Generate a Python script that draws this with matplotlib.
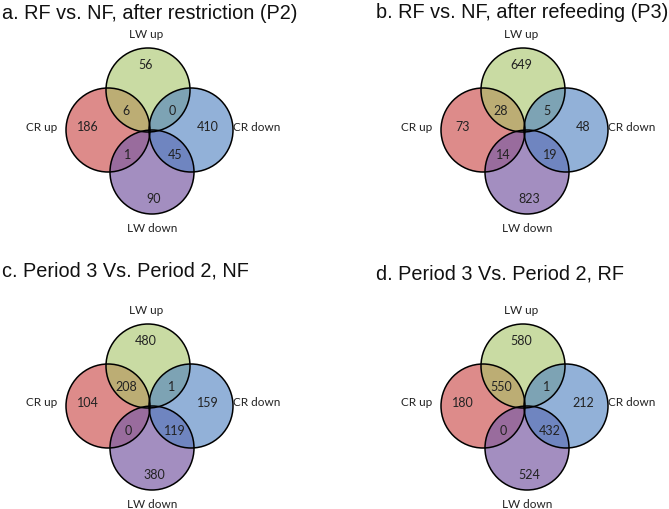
import matplotlib
matplotlib.use("Agg")
import matplotlib.pyplot as plt
from matplotlib.patches import Circle

# Panel titles
titles = [
    "a. RF vs. NF, after restriction (P2)",
    "b. RF vs. NF, after refeeding (P3)",
    "c. Period 3 Vs. Period 2, NF",
    "d. Period 3 Vs. Period 2, RF",
]

# Set names
set_labels = ["LW up", "CR up", "CR down", "LW down"]

# Region counts, one list per region, one value per panel (a, b, c, d)
lw_up_only = [56, 649, 480, 580]
lw_up_cr_up = [6, 28, 208, 550]
lw_up_cr_down = [0, 5, 1, 1]
cr_up_only = [186, 73, 104, 180]
cr_down_only = [410, 48, 159, 212]
cr_up_lw_down = [1, 14, 0, 0]
cr_down_lw_down = [45, 19, 119, 432]
lw_down_only = [90, 823, 380, 524]

# layout (pixels)
W, H = 669, 509
centers = [(150, 131), (525, 131), (150, 407), (525, 407)]
title_pos = [(2, 13), (376, 12), (2, 271), (376, 274)]
R = 42
circ_off = {"green": (-2, -41), "red": (-42, -1), "purple": (2, 41), "blue": (41, -1)}
circ_col = {"red": "#cf5a58", "green": "#a6c466", "purple": "#7c5fa6", "blue": "#4f81c0"}
circ_alpha = {"red": 0.7, "green": 0.6, "purple": 0.7, "blue": 0.62}
label_off = [(-4, -97), (-108, -4), (107, -4), (2, 98)]
num_off = [(-4, -66), (-24, -20), (22, -20), (-62, -4), (58, -4),
           (-22, 24), (25, 24), (4, 68)]

plt.rcParams['font.family'] = ['Lato', 'DejaVu Sans']

fig = plt.figure(figsize=(W / 100, H / 100), dpi=100)
ax = fig.add_axes([0, 0, 1, 1])
ax.set_xlim(0, W)
ax.set_ylim(H, 0)
ax.set_aspect("equal")
ax.axis("off")

for i, (cx, cy) in enumerate(centers):
    for name in ["red", "green", "purple", "blue"]:
        dx, dy = circ_off[name]
        ax.add_patch(Circle((cx + dx, cy + dy), R, facecolor=circ_col[name],
                            alpha=circ_alpha[name], lw=0))
    for name in ["red", "green", "purple", "blue"]:
        dx, dy = circ_off[name]
        ax.add_patch(Circle((cx + dx, cy + dy), R, facecolor="none",
                            edgecolor="black", lw=1.1))

    for lab, (dx, dy) in zip(set_labels, label_off):
        ax.text(cx + dx, cy + dy, lab, ha="center", va="center", fontsize=8.5,
                color="#222222")

    vals = [lw_up_only[i], lw_up_cr_up[i], lw_up_cr_down[i], cr_up_only[i],
            cr_down_only[i], cr_up_lw_down[i], cr_down_lw_down[i], lw_down_only[i]]
    for v, (dx, dy) in zip(vals, num_off):
        ax.text(cx + dx, cy + dy, str(v), ha="center", va="center", fontsize=9,
                color="#222222")

    tx, ty = title_pos[i]
    ax.text(tx, ty, titles[i], ha="left", va="center", fontsize=14.3,
            family=["Liberation Sans", "DejaVu Sans"], color="#111111")

fig.savefig("out.png", dpi=100)
